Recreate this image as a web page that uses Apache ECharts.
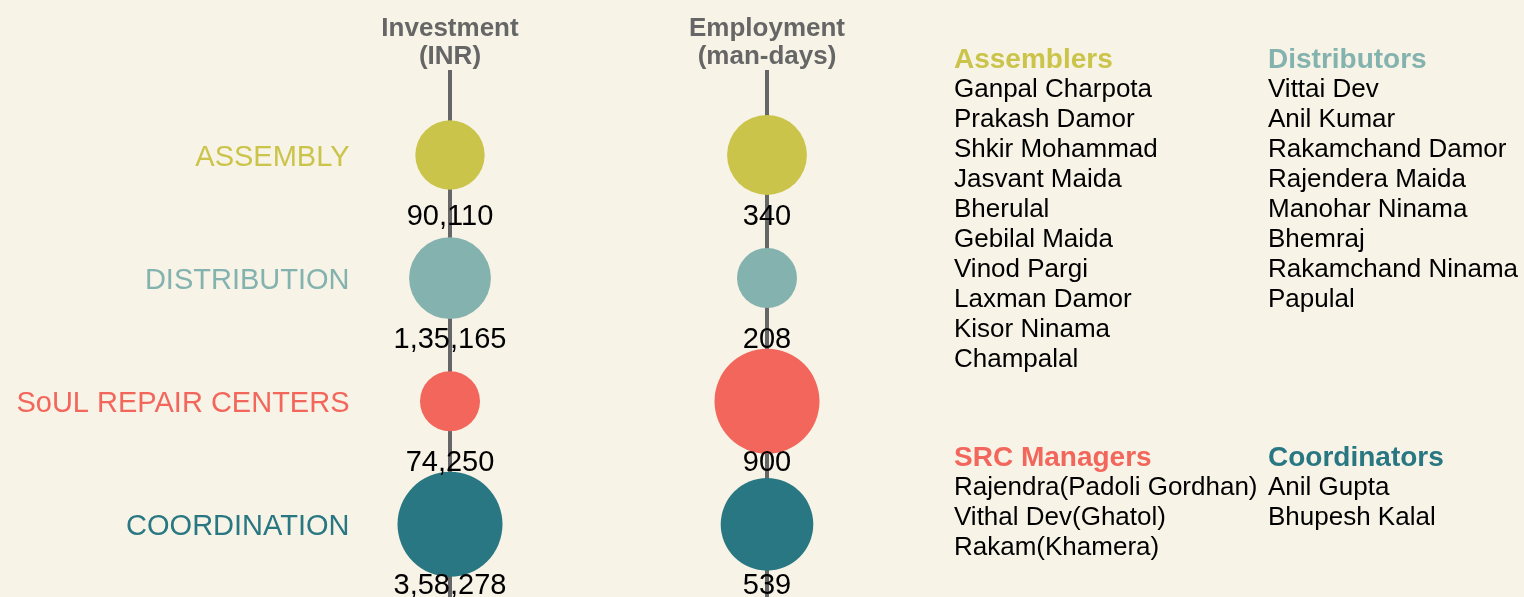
<!DOCTYPE html>
<html>
<head>
<meta charset="utf-8">
<script src="https://cdn.jsdelivr.net/npm/echarts@6/dist/echarts.min.js"></script>
<style>
  html, body { margin: 0; padding: 0; background: #f7f3e6; }
  #chart { width: 1524px; height: 597px; }
</style>
</head>
<body>
<div id="chart"></div>
<script>
// data
const metrics = ['Investment\n(INR)', 'Employment\n(man-days)'];
const sectors = ['ASSEMBLY', 'DISTRIBUTION', 'SoUL REPAIR CENTERS', 'COORDINATION'];
const investment = [90110, 135165, 74250, 358278];
const employment = [340, 208, 900, 539];

const assemblers = ['Ganpal Charpota', 'Prakash Damor', 'Shkir Mohammad', 'Jasvant Maida', 'Bherulal',
  'Gebilal Maida', 'Vinod Pargi', 'Laxman Damor', 'Kisor Ninama', 'Champalal'];
const distributors = ['Vittai Dev', 'Anil Kumar', 'Rakamchand Damor', 'Rajendera Maida', 'Manohar Ninama',
  'Bhemraj', 'Rakamchand Ninama', 'Papulal'];
const srcManagers = ['Rajendra(Padoli Gordhan)', 'Vithal Dev(Ghatol)', 'Rakam(Khamera)'];
const coordinators = ['Anil Gupta', 'Bhupesh Kalal'];

// styling
const sectorColors = ['#cbc44b', '#83b2af', '#f2665c', '#287782'];
const FONT = "'Liberation Sans', Arial, sans-serif";

// Indian digit grouping: 1,35,165
const fmtIN = (n) => {
  const s = String(n);
  if (s.length <= 3) return s;
  const last3 = s.slice(-3);
  const rest = s.slice(0, -3).replace(/\B(?=(\d{2})+(?!\d))/g, ',');
  return rest + ',' + last3;
};

// bubble diameter from value, log-ish scale within each metric
const sizeScale = (values) => {
  const lo = Math.log(Math.min(...values));
  const hi = Math.log(Math.max(...values));
  return (v) => 60 + 45 * Math.pow((Math.log(v) - lo) / (hi - lo), 0.75);
};

const bubbleSeries = (values, col) => {
  const size = sizeScale(values);
  return {
    type: 'scatter',
    z: 3,
    data: values.map((v, i) => ({
      value: [col, i, v],
      itemStyle: { color: sectorColors[i], opacity: 1 }
    })),
    symbolSize: (val) => size(val[2]),
    label: {
      show: true,
      position: 'inside',
      offset: [0, 62],
      formatter: (p) => fmtIN(p.value[2]),
      color: '#000',
      fontFamily: FONT,
      fontSize: 29
    }
  };
};

const nameBlock = (title, color, names, left, top) => ({
  type: 'text',
  left: left,
  top: top,
  style: {
    text: '{t|' + title + '}\n' + names.map(n => '{n|' + n + '}').join('\n'),
    rich: {
      t: { fontFamily: FONT, fontSize: 28, fontWeight: 'bold', fill: color, lineHeight: 30 },
      n: { fontFamily: FONT, fontSize: 26, fill: '#000', lineHeight: 30 }
    }
  }
});

const chart = echarts.init(document.getElementById('chart'));

chart.setOption({
  backgroundColor: '#f7f3e6',
  animation: false,
  grid: { left: 450, right: 757, top: 70, bottom: 0 },
  xAxis: {
    type: 'category',
    data: metrics,
    position: 'top',
    boundaryGap: false,
    axisLine: { show: false },
    axisTick: { show: false },
    axisLabel: {
      interval: 0,
      margin: -1,
      color: '#666',
      fontFamily: FONT,
      fontWeight: 'bold',
      fontSize: 26,
      lineHeight: 28
    },
    splitLine: { show: true, interval: 0, lineStyle: { color: '#666', width: 4 } }
  },
  yAxis: {
    type: 'value',
    inverse: true,
    min: -0.69,
    max: 3.59,
    show: false
  },
  series: [
    // sector names on the left
    {
      type: 'scatter',
      z: 2,
      symbolSize: 1,
      itemStyle: { color: 'transparent', opacity: 1 },
      data: sectors.map((s, i) => ({
        value: [0, i],
        label: { color: sectorColors[i] }
      })),
      label: {
        show: true,
        position: 'left',
        distance: 100,
        offset: [0, 3],
        formatter: (p) => sectors[p.value[1]],
        fontFamily: FONT,
        fontSize: 29
      }
    },
    bubbleSeries(investment, 0),
    bubbleSeries(employment, 1)
  ],
  graphic: [
    nameBlock('Assemblers', sectorColors[0], assemblers, 954, 46),
    nameBlock('Distributors', sectorColors[1], distributors, 1268, 46),
    nameBlock('SRC Managers', sectorColors[2], srcManagers, 954, 444),
    nameBlock('Coordinators', sectorColors[3], coordinators, 1268, 444)
  ]
});
</script>
</body>
</html>
